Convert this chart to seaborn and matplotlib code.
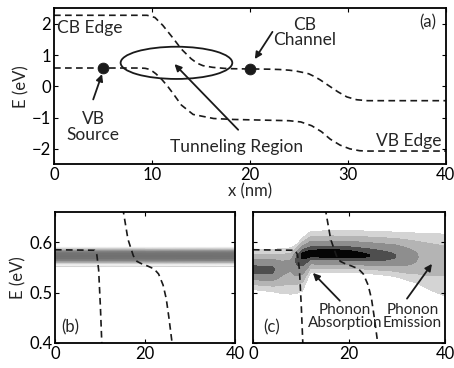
import numpy as np
import matplotlib
matplotlib.use("Agg")
import matplotlib.pyplot as plt
import seaborn as sns
from matplotlib.patches import Ellipse
from matplotlib.colors import LinearSegmentedColormap

# ---- band edges (x in nm, E in eV) ----
cb_x = [0, 9.5, 10.3, 11.1, 12.2, 13.0, 14.0, 14.6, 15.2, 16.2, 17.4, 18.2, 19.5, 20.5, 22.0, 23.0, 24.0, 24.7, 25.3, 26.0, 26.6, 27.2, 28.0, 29.0, 29.9, 30.9, 32.0, 40]
cb_e = [2.27, 2.27, 2.2, 1.95, 1.52, 1.19, 0.88, 0.74, 0.66, 0.606, 0.573, 0.562, 0.556, 0.553, 0.547, 0.537, 0.515, 0.488, 0.45, 0.40, 0.31, 0.2, 0.03, -0.18, -0.34, -0.43, -0.46, -0.46]
vb_x = [0, 8.8, 9.3, 9.7, 10.1, 10.4, 11.0, 11.6, 12.2, 13.0, 14.2, 16.3, 18.3, 24.0, 25.2, 26.3, 27.3, 28.2, 29.2, 30.2, 31.2, 32.0, 40]
vb_e = [0.585, 0.584, 0.575, 0.545, 0.47, 0.40, 0.22, 0.0, -0.25, -0.6, -0.9, -1.03, -1.06, -1.1, -1.14, -1.26, -1.45, -1.69, -1.88, -2.0, -2.06, -2.07, -2.07]

# ---- states marked in (a) ----
dot_x = [5, 20]
dot_e = [0.585, 0.55]

# ---- panel (b) spectrum (energy profile, darkness 0..1) ----
band_e = [0.540, 0.551, 0.553, 0.555, 0.557, 0.560, 0.564, 0.568, 0.573, 0.578, 0.582, 0.586, 0.589, 0.592, 0.660]
band_v = [0.0, 0.0, 0.22, 0.0, 0.1, 0.3, 0.48, 0.55, 0.56, 0.55, 0.5, 0.3, 0.12, 0.0, 0.0]

# ---- panel (c) spectral ridge ----
rid_x = [0, 4, 6, 8, 9.2, 10.3, 12, 16, 20, 24, 27, 29.6, 32, 34.4, 37, 40]
rid_a = [0.8, 0.78, 0.5, 0.45, 0.8, 0.93, 0.97, 1.0, 0.97, 0.91, 0.82, 0.73, 0.55, 0.4, 0.3, 0.24]
rid_c = [0.545, 0.545, 0.55, 0.558, 0.568, 0.575, 0.577, 0.577, 0.576, 0.573, 0.572, 0.572, 0.571, 0.571, 0.571, 0.571]
rid_top = [0.586, 0.586, 0.587, 0.589, 0.596, 0.608, 0.621, 0.623, 0.623, 0.622, 0.621, 0.620, 0.619, 0.618, 0.617, 0.616]
rid_bot = [0.506, 0.502, 0.498, 0.497, 0.499, 0.503, 0.540, 0.540, 0.540, 0.538, 0.535, 0.532, 0.525, 0.518, 0.505, 0.493]
c_levels = [0.05, 0.17, 0.4, 0.72, 0.9, 10]
c_colors = ['#d4d4d4', '#b4b4b4', '#8e8e8e', '#4e4e4e', '#050505']

sns.set_theme(style="ticks")
plt.rcParams.update({
    "font.family": ["Lato", "DejaVu Sans"],
    "font.size": 12,
    "xtick.direction": "in", "ytick.direction": "in",
    "xtick.top": True, "ytick.right": True,
    "xtick.major.size": 3, "ytick.major.size": 3,
    "xtick.major.width": 0.8, "ytick.major.width": 0.8,
    "axes.linewidth": 1.3, "axes.edgecolor": "black",
    "xtick.color": "black", "ytick.color": "black",
    "xtick.labelsize": 12, "ytick.labelsize": 12,
    "axes.labelsize": 12,
})

fig = plt.figure(figsize=(4.54, 3.68), dpi=100)
ax_a = fig.add_axes([0.119, 0.553, 0.863, 0.425])
ax_b = fig.add_axes([0.121, 0.068, 0.397, 0.356])
ax_c = fig.add_axes([0.557, 0.068, 0.423, 0.356])

dash = (0, (4, 2.6))

def edges(ax):
    sns.lineplot(x=cb_x, y=cb_e, ax=ax, color='k', lw=1.2, linestyle=dash, sort=False, estimator=None)
    sns.lineplot(x=vb_x, y=vb_e, ax=ax, color='k', lw=1.2, linestyle=dash, sort=False, estimator=None)

# ---------------- (a) ----------------
edges(ax_a)
sns.scatterplot(x=dot_x, y=dot_e, ax=ax_a, color='k', s=60, edgecolor='k', zorder=5)
ax_a.add_patch(Ellipse((12.5, 0.75), 11.4, 1.03, fill=False, lw=1.3, color='k'))
ax_a.set_xlim(0, 40)
ax_a.set_ylim(-2.5, 2.5)
ax_a.set_xticks([0, 10, 20, 30, 40])
ax_a.set_yticks([-2, -1, 0, 1, 2])
ax_a.set_yticklabels(['\u22122', '\u22121', '0', '1', '2'])
ax_a.set_xlabel('x (nm)', labelpad=0)
ax_a.set_ylabel('E (eV)', labelpad=2)
ax_a.text(0.3, 1.87, 'CB Edge', ha='left', va='center', fontsize=12.5)
ax_a.text(39.6, -1.74, 'VB Edge', ha='right', va='center', fontsize=12.5)
ax_a.text(38.2, 2.03, '(a)', ha='center', va='center')
ax_a.text(25.6, 1.73, 'CB\nChannel', ha='center', va='center', linespacing=0.95, fontsize=12.5)
ax_a.text(4.0, -1.3, 'VB\nSource', ha='center', va='center', linespacing=0.95, fontsize=12.5)
ax_a.text(18.6, -1.93, 'Tunneling Region', ha='center', va='center', fontsize=12.5)
ap = dict(arrowstyle='-|>', lw=1.3, color='k', mutation_scale=10, shrinkA=0, shrinkB=0)
ax_a.annotate('', xy=(20.5, 0.87), xytext=(22.3, 1.74), arrowprops=ap)
ax_a.annotate('', xy=(4.9, 0.39), xytext=(4.0, -0.42), arrowprops=ap)
ax_a.annotate('', xy=(12.3, 0.71), xytext=(18.8, -1.39), arrowprops=ap)

# ---------------- (b) ----------------
gray_cmap = LinearSegmentedColormap.from_list('wk', ['white', 'black'])
bx = np.array([0, 40])
bE = np.array(band_e)
B = np.tile(np.array(band_v)[:, None], (1, 2))
ax_b.pcolormesh(bx, bE, B, cmap=gray_cmap, vmin=0, vmax=1, shading='gouraud', zorder=0)
edges(ax_b)
ax_b.set_xlim(0, 40)
ax_b.set_ylim(0.4, 0.66)
ax_b.set_xticks([0, 20, 40])
ax_b.set_yticks([0.4, 0.5, 0.6])
ax_b.set_yticklabels(['0.4', '0.5', '0.6'])
ax_b.set_ylabel('E (eV)', labelpad=2)
ax_b.text(1.5, 0.43, '(b)', ha='left', va='center')

# ---------------- (c) ----------------
gx = np.linspace(0, 40, 321)
gE = np.linspace(0.4, 0.66, 261)
A = np.interp(gx, rid_x, rid_a)
C = np.interp(gx, rid_x, rid_c)
T = np.interp(gx, rid_x, rid_top)
Bt = np.interp(gx, rid_x, rid_bot)
k = np.sqrt(2 * np.log(A / c_levels[0]))
su = (T - C) / k
sd = (C - Bt) / k
X, Y = np.meshgrid(gx, gE)
S = np.where(Y >= C[None, :], su[None, :], sd[None, :])
Z = A[None, :] * np.exp(-0.5 * ((Y - C[None, :]) / S) ** 2)
ax_c.contourf(X, Y, Z, levels=c_levels, colors=c_colors, zorder=0)
edges(ax_c)
ax_c.set_xlim(0, 40)
ax_c.set_ylim(0.4, 0.66)
ax_c.set_xticks([0, 20, 40])
ax_c.set_yticks([0.4, 0.5, 0.6])
ax_c.set_yticklabels([])
ax_c.set_ylabel('')
ax_c.text(2.1, 0.43, '(c)', ha='left', va='center')
ax_c.text(19.2, 0.452, 'Phonon\nAbsorption', ha='center', va='center', linespacing=0.95, fontsize=11)
ax_c.text(33.2, 0.452, 'Phonon\nEmission', ha='center', va='center', linespacing=0.95, fontsize=11)
ax_c.annotate('', xy=(12.5, 0.539), xytext=(18.1, 0.484), arrowprops=ap)
ax_c.annotate('', xy=(37.3, 0.557), xytext=(32.1, 0.488), arrowprops=ap)

for ax in (ax_a, ax_b, ax_c):
    ax.tick_params(pad=2)

fig.savefig('out.png', dpi=100)
